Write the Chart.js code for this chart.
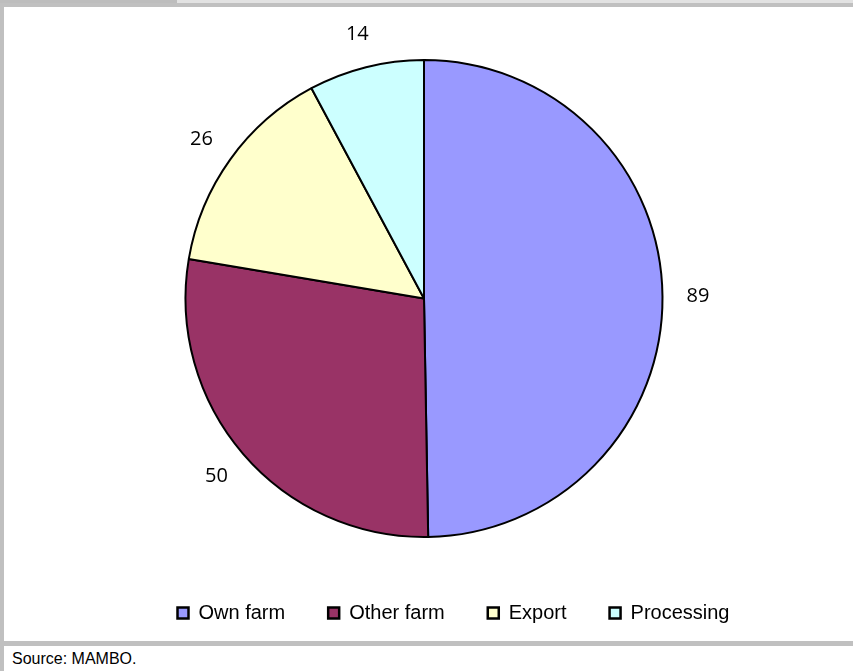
<!DOCTYPE html>
<html>
<head>
<meta charset="utf-8">
<script src="https://cdn.jsdelivr.net/npm/chart.js@4.4.0/dist/chart.umd.min.js"></script>
<style>
    body { margin: 0; background: #fff; }
    #page { position: relative; width: 853px; height: 671px; overflow: hidden; background: #fff; }
    .strip { position: absolute; background: #c0c0c0; }
    #myChart { position: absolute; left: 4px; top: 7px; }
    #source { position: absolute; left: 12px; top: 650px; font: 16px "Liberation Sans", Arial, sans-serif; color: #000; }
</style>
</head>
<body>
<div id="page">
    <div class="strip" style="left:0;top:0;width:177px;height:3px;background:#bdbdbd"></div>
    <div class="strip" style="left:177px;top:0;width:676px;height:3px;background:#e2e2e2"></div>
    <div class="strip" style="left:0;top:3px;width:853px;height:4px"></div>
    <div class="strip" style="left:0;top:7px;width:4px;height:664px"></div>
    <div class="strip" style="left:0;top:641px;width:853px;height:5px"></div>
    <canvas id="myChart" width="849" height="634"></canvas>
    <div id="source">Source: MAMBO.</div>
</div>
<script>
// Chart data
const categories = ['Own farm', 'Other farm', 'Export', 'Processing'];
const values = [89, 50, 26, 14];
const sliceColors = ['#9999FF', '#993366', '#FFFFCC', '#CCFFFF'];

const pieRadius = 238.5;
const labelGap = 24;

// Draw the values just outside each slice (label box pushed out along the slice middle)
const outsideLabels = {
    id: 'outsideLabels',
    afterDatasetsDraw(chart) {
        const ctx = chart.ctx;
        const meta = chart.getDatasetMeta(0);
        ctx.save();
        ctx.font = '20px "Open Sans", sans-serif';
        ctx.fillStyle = '#000';
        ctx.textAlign = 'center';
        ctx.textBaseline = 'middle';
        meta.data.forEach((arc, i) => {
            const p = arc.getProps(['x', 'y', 'startAngle', 'endAngle', 'outerRadius']);
            const mid = (p.startAngle + p.endAngle) / 2;
            const text = String(values[i]);
            const halfW = ctx.measureText(text).width / 2;
            const halfH = 10;
            const r = p.outerRadius + labelGap;
            const x = p.x + Math.cos(mid) * (r + halfW);
            const y = p.y + Math.sin(mid) * (r + halfH);
            ctx.fillText(text, x, y);
        });
        ctx.restore();
    }
};

const ctx = document.getElementById('myChart').getContext('2d');

const pieChart = new Chart(ctx, {
    type: 'pie',
    data: {
        labels: categories,
        datasets: [{
            data: values,
            backgroundColor: sliceColors,
            borderColor: '#000',
            borderWidth: 2,
            radius: pieRadius
        }]
    },
    options: {
        responsive: false,
        animation: false,
        devicePixelRatio: 1,
        layout: {
            padding: { left: 50, right: 0, top: 30, bottom: 8 }
        },
        plugins: {
            // empty title on the right only reserves room so the pie sits left of the legend centre
            title: {
                display: true,
                position: 'right',
                text: '',
                font: { size: 10, lineHeight: 1.2 },
                padding: { top: 47, bottom: 0 }
            },
            legend: {
                position: 'bottom',
                labels: {
                    boxWidth: 11,
                    boxHeight: 11,
                    padding: 43,
                    color: '#000',
                    font: { family: '"Liberation Sans", Arial, sans-serif', size: 20 },
                    generateLabels(chart) {
                        const items = Chart.overrides.pie.plugins.legend.labels.generateLabels(chart);
                        items.forEach(item => {
                            item.lineWidth = 2.5;
                            item.strokeStyle = '#000';
                        });
                        return items;
                    }
                }
            },
            tooltip: { enabled: false }
        }
    },
    plugins: [outsideLabels]
});
</script>
</body>
</html>
